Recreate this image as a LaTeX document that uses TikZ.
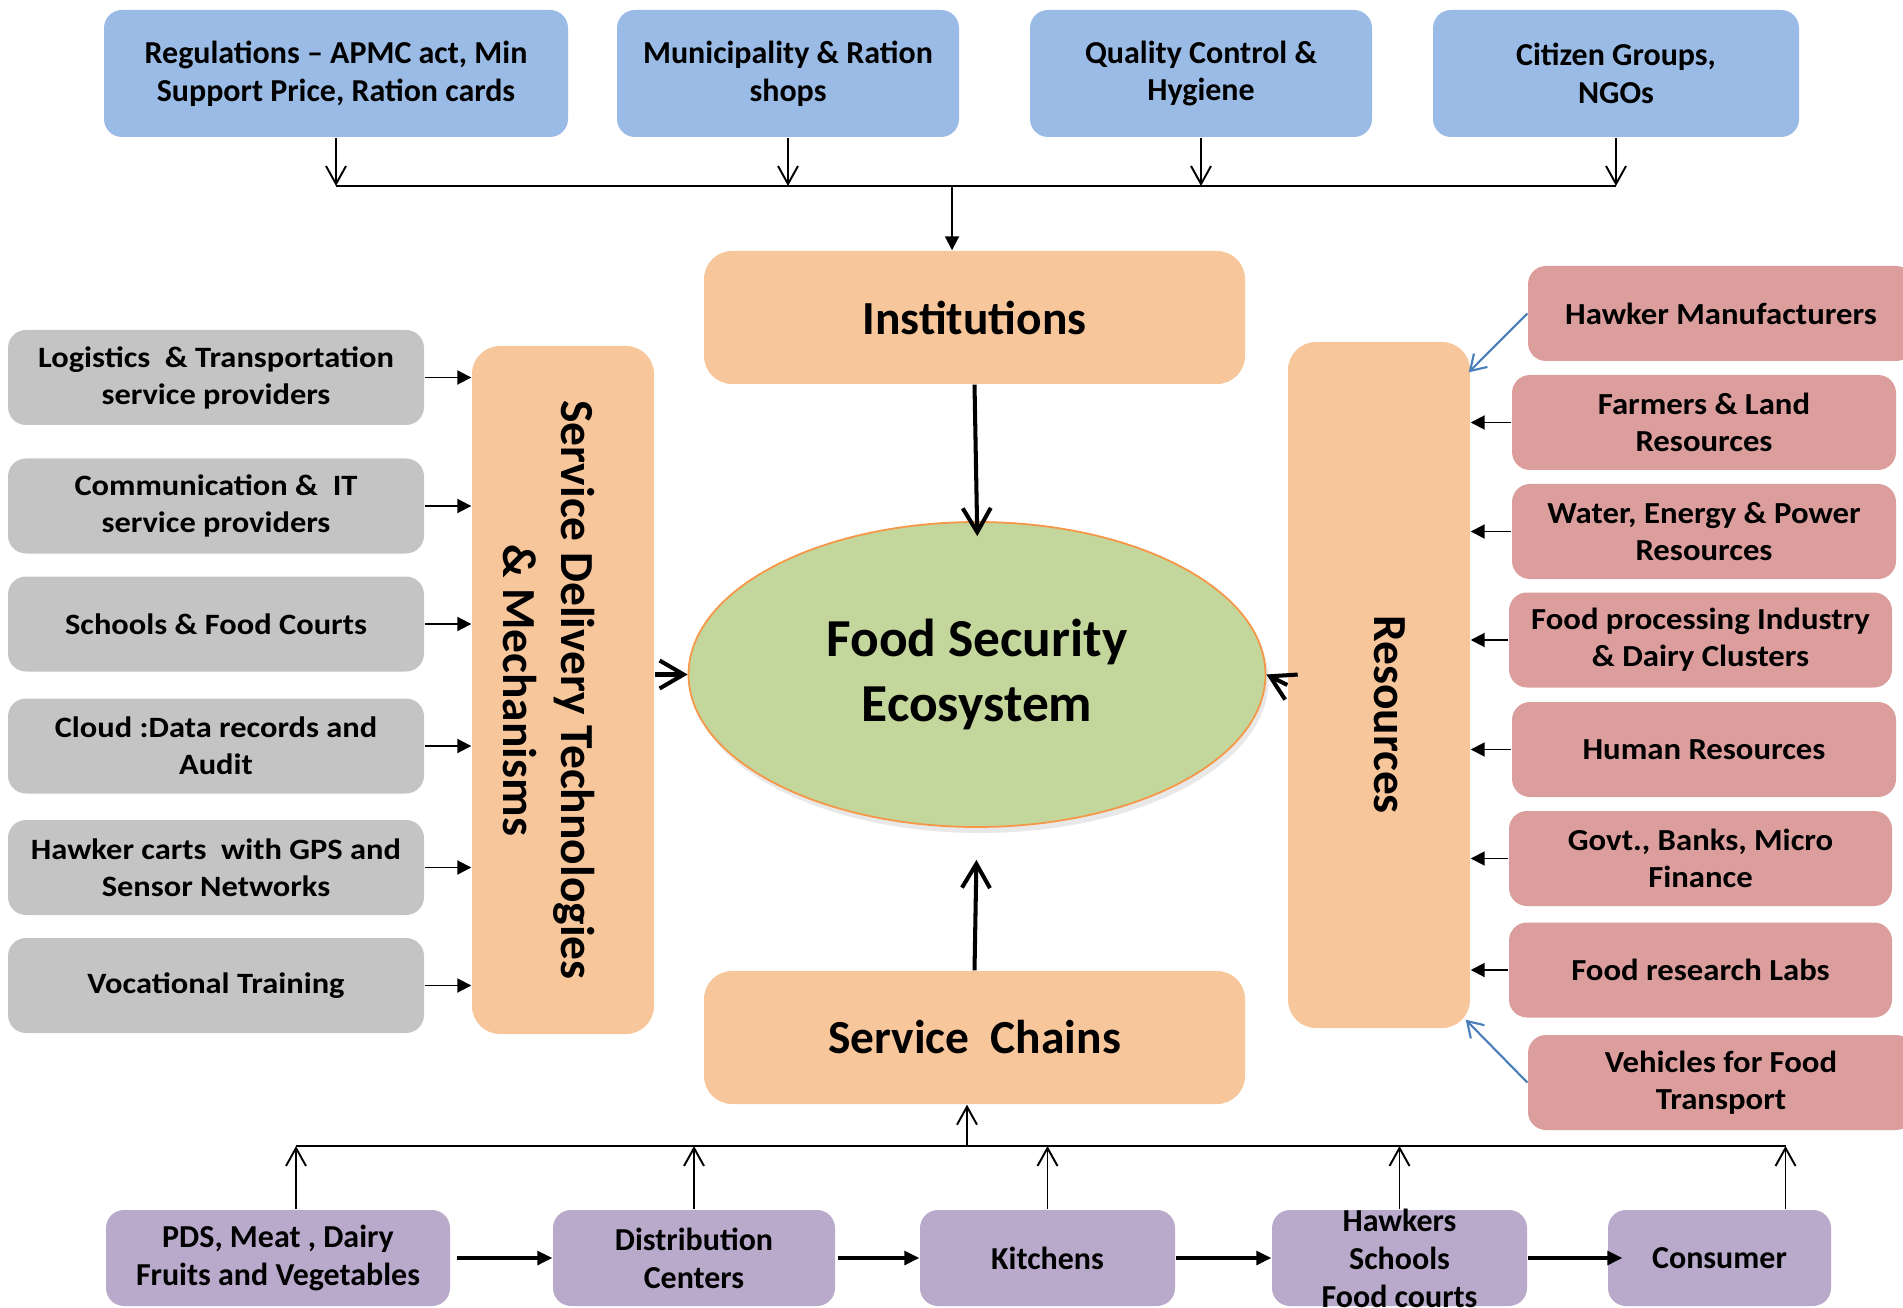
\documentclass[tikz,border=0pt]{standalone}
\usepackage{fontspec}
\setmainfont{Carlito}
\newfontfamily\greyfont{Carlito}[FakeStretch=1.10]
\newfontfamily\pinkfont{Carlito}[FakeStretch=1.07]
\usepackage{xcolor}
\usepackage{tikz}
\usetikzlibrary{arrows.meta, positioning, calc, shapes.geometric, shadows}

\definecolor{boxblue}{HTML}{9ABBE5}
\definecolor{boxpeach}{HTML}{F8C69B}
\definecolor{boxgrey}{HTML}{C4C4C4}
\definecolor{boxpink}{HTML}{DB9E9D}
\definecolor{boxlilac}{HTML}{B9AACC}
\definecolor{ecogreen}{HTML}{C3D69B}
\definecolor{ecoborder}{HTML}{F79646}
\definecolor{linkblue}{HTML}{4A7EBB}

\begin{document}
\begin{tikzpicture}[
    every node/.style={align=center, inner sep=0pt},
    card/.style={rounded corners=0.18cm},
    topbox/.style={card, fill=boxblue, minimum height=1.27cm, font=\bfseries\fontsize{9.1}{10.8}\selectfont},
    greybox/.style={card, fill=boxgrey, minimum width=4.16cm, minimum height=0.95cm, font=\greyfont\bfseries\fontsize{8.4}{10.5}\selectfont},
    pinkbox/.style={card, fill=boxpink, minimum height=0.95cm, font=\pinkfont\bfseries\fontsize{8.7}{10.5}\selectfont},
    chainbox/.style={card, fill=boxlilac, minimum height=0.96cm, font=\bfseries\fontsize{9.1}{10.8}\selectfont},
    bigtext/.style={font=\bfseries\fontsize{13.5}{16.5}\selectfont},
    bigbox/.style={rounded corners=0.28cm, fill=boxpeach, bigtext},
    openArr/.style={-{Straight Barb[length=1.8mm,width=2mm]}, line width=0.55pt},
    fillArr/.style={-{Triangle[length=1.4mm,width=1.4mm]}, line width=0.55pt},
    flowArr/.style={-{Triangle[length=1.5mm,width=1.4mm]}, line width=0.9pt},
    fatArr/.style={-{Straight Barb[length=2.4mm,width=2.8mm]}, line width=1.15pt},
    linkArr/.style={-{Straight Barb[length=1.5mm,width=1.9mm]}, linkblue, line width=0.6pt}
]
\clip (0,0) rectangle (19.03,13.07);

% Institutions layer
\node[topbox, minimum width=4.64cm] (reg) at (3.36,12.335) {Regulations -- APMC act, Min\\Support Price, Ration cards};
\node[topbox, minimum width=3.42cm] (mun) at (7.88,12.335) {Municipality \& Ration\\shops};
\node[topbox, minimum width=3.42cm] (qc) at (12.01,12.335) {Quality Control \&\\Hygiene};
\node[topbox, minimum width=3.66cm] (cit) at (16.16,12.335) {Citizen Groups,\\NGOs};

% Centre
\node[bigbox, minimum width=5.41cm, minimum height=1.33cm] (inst) at (9.745,9.895) {Institutions};
\node[bigbox, minimum width=5.41cm, minimum height=1.33cm] (chains) at (9.745,2.695) {Service~ Chains};
\node[ellipse, fill=ecogreen, draw=ecoborder, line width=0.5pt, minimum width=5.77cm, minimum height=3.05cm,
      drop shadow={shadow xshift=0.3mm, shadow yshift=-0.6mm, opacity=0.18},
      font=\bfseries\fontsize{15.2}{18.6}\selectfont] (eco) at (9.77,6.325) {Food Security\\Ecosystem};
\node[bigbox, minimum width=1.82cm, minimum height=6.88cm] (sdt) at (5.63,6.17) {};
\node[bigtext, rotate=-90] (sdttxt) at (5.49,6.17) {Service Delivery Technologies\\\& Mechanisms};
\node[bigbox, minimum width=1.82cm, minimum height=6.86cm] (res) at (13.79,6.22) {};
\node[bigtext, rotate=-90] (restxt) at (13.90,5.925) {Resources};

% Technologies
\node[greybox] (log) at (2.16,9.295) {Logistics~ \& Transportation\\service providers};
\node[greybox] (com) at (2.16,8.01) {Communication \&~ IT\\service providers};
\node[greybox] (sch) at (2.16,6.83) {Schools \& Food Courts};
\node[greybox] (cld) at (2.16,5.61) {Cloud :Data records and\\Audit};
\node[greybox] (gps) at (2.16,4.395) {Hawker carts~ with GPS and\\Sensor Networks};
\node[greybox] (voc) at (2.16,3.215) {Vocational Training};

% Resources
\node[pinkbox, minimum width=3.86cm] (hm) at (17.21,9.935) {Hawker Manufacturers};
\node[pinkbox, minimum width=3.84cm] (farm) at (17.04,8.845) {Farmers \& Land\\Resources};
\node[pinkbox, minimum width=3.84cm] (water) at (17.04,7.755) {Water, Energy \& Power\\Resources};
\node[pinkbox, minimum width=3.83cm] (fpi) at (17.005,6.67) {Food processing Industry\\\& Dairy Clusters};
\node[pinkbox, minimum width=3.84cm] (hr) at (17.04,5.575) {Human Resources};
\node[pinkbox, minimum width=3.83cm] (govt) at (17.005,4.485) {Govt., Banks, Micro\\Finance};
\node[pinkbox, minimum width=3.83cm] (lab) at (17.005,3.37) {Food research Labs};
\node[pinkbox, minimum width=3.86cm] (veh) at (17.21,2.245) {Vehicles for Food\\Transport};

% Service chain
\node[chainbox, minimum width=3.44cm] (pds) at (2.78,0.49) {PDS, Meat , Dairy\\Fruits and Vegetables};
\node[chainbox, minimum width=2.82cm] (dist) at (6.94,0.49) {Distribution\\Centers};
\node[chainbox, minimum width=2.55cm] (kit) at (10.475,0.49) {Kitchens};
\node[chainbox, minimum width=2.55cm] (hawk) at (13.995,0.49) {};
\node[font=\bfseries\fontsize{9.1}{10.8}\selectfont] (hawktxt) at (hawk) {Hawkers\\Schools\\Food courts};
\node[chainbox, minimum width=2.23cm] (cons) at (17.195,0.49) {Consumer};

% Top feed
\coordinate (tbus) at (0,11.21);
\coordinate (tjoin) at (9.52,11.21);
\foreach \b in {reg,mun,qc,cit}
    \draw[openArr] (\b.south) -- (\b.south |- tbus);
\draw[line width=0.55pt] (reg.south |- tbus) -- (cit.south |- tbus);
\draw[fillArr] (tjoin) -- (tjoin |- inst.north);

% Into the ecosystem
\draw[fatArr, shorten >=-1.5mm] (inst.south) -- (eco.north);
\draw[fatArr, shorten >=3.2mm] (chains.north) -- (eco.south);
\draw[fatArr] (sdt.east |- eco.west) -- (eco.west);
\draw[fatArr] (res.west) -- (eco.east);

% Left and right feeds
\foreach \g in {log,com,sch,cld,gps,voc}
    \draw[fillArr] (\g.east) -- (\g.east -| sdt.west);
\foreach \p in {farm,water,fpi,hr,govt,lab}
    \draw[fillArr] (\p.west) -- (\p.west -| res.east);
\draw[linkArr] (hm.west) -- ($(res.north east)+(-0.02,-0.31)$);
\draw[linkArr] (veh.west) -- ($(res.south east)+(-0.05,0.09)$);

% Bottom feed
\coordinate (bbus) at (0,1.61);
\coordinate (sjoin) at (9.67,1.61);
\coordinate (pdsup) at ($(pds.north)+(0.18,0)$);
\coordinate (consup) at ($(cons.north)+(0.66,0)$);
\draw[openArr] (pdsup) -- (pdsup |- bbus);
\foreach \c in {dist,kit,hawk}
    \draw[openArr] (\c.north) -- (\c.north |- bbus);
\draw[openArr] (consup) -- (consup |- bbus);
\draw[line width=0.55pt] (pdsup |- bbus) -- (consup |- bbus);
\draw[openArr] (sjoin) -- (sjoin |- chains.south);

% Chain flow
\draw[flowArr, shorten <=0.6mm] (pds) -- (dist);
\draw[flowArr, shorten <=0.2mm] (dist) -- (kit);
\draw[flowArr] (kit) -- (hawk);
\draw[flowArr, shorten >=-1.5mm] (hawk) -- (cons);
\end{tikzpicture}
\end{document}
